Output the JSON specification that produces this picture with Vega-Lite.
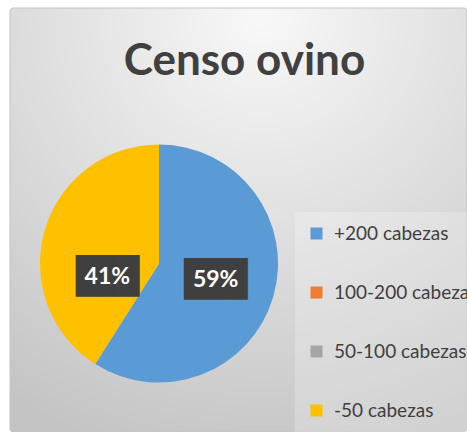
{
  "$schema": "https://vega.github.io/schema/vega-lite/v6.json",
  "width": 457,
  "height": 424,
  "autosize": {"type": "none"},
  "padding": {"left": 10, "top": 8, "right": 0, "bottom": 0},
  "background": "white",
  "title": {
    "text": "Censo ovino",
    "font": "Lato",
    "fontSize": 44,
    "fontWeight": "bold",
    "color": "#404040",
    "anchor": "middle",
    "frame": "group",
    "offset": 0,
    "dx": 6,
    "dy": 76
  },
  "config": {"view": {"stroke": null}},
  "data": {
    "values": [
      {"Categoria": "+200 cabezas", "valor": 59, "etiqueta": "59%"},
      {"Categoria": "100-200 cabezas", "valor": 0, "etiqueta": ""},
      {"Categoria": "50-100 cabezas", "valor": 0, "etiqueta": ""},
      {"Categoria": "-50 cabezas", "valor": 41, "etiqueta": "41%"}
    ]
  },
  "layer": [
    {
      "data": {"values": [{}]},
      "mark": {
        "type": "rect",
        "fill": {
          "gradient": "radial",
          "x1": 0.55, "y1": 0.05, "r1": 0,
          "x2": 0.55, "y2": 0.05, "r2": 1.0,
          "stops": [
            {"offset": 0, "color": "#f8f8f8"},
            {"offset": 1, "color": "#c4c4c4"}
          ]
        },
        "stroke": "#c4c4c4",
        "strokeWidth": 1,
        "cornerRadius": 3
      },
      "encoding": {}
    },
    {
      "mark": {"type": "arc", "outerRadius": 119, "xOffset": -79.5, "yOffset": 43.5},
      "encoding": {
        "theta": {"field": "valor", "type": "quantitative", "stack": true},
        "order": {"field": "Categoria", "type": "nominal", "sort": "ascending"},
        "color": {
          "field": "Categoria",
          "type": "nominal",
          "sort": ["+200 cabezas", "100-200 cabezas", "50-100 cabezas", "-50 cabezas"],
          "scale": {
            "domain": ["+200 cabezas", "100-200 cabezas", "50-100 cabezas", "-50 cabezas"],
            "range": ["#5B9BD5", "#ED7D31", "#A5A5A5", "#FFC000"]
          },
          "legend": {
            "orient": "none",
            "legendX": 285,
            "legendY": 204,
            "title": null,
            "symbolType": "square",
            "symbolSize": 144,
            "symbolStrokeWidth": 0,
            "labelFont": "Lato",
            "labelFontSize": 19,
            "labelColor": "#404040",
            "labelOffset": 8,
            "rowPadding": 39,
            "padding": 12,
            "fillColor": "rgba(255,255,255,0.22)",
            "labelLimit": 300
          }
        }
      }
    },
    {
      "transform": [{"filter": "datum.valor > 0"}],
      "mark": {
        "type": "text",
        "radius": 59,
        "xOffset": -79.5,
        "yOffset": 43.5,
        "font": "DejaVu Sans Mono",
        "fontSize": 35,
        "color": "#3f3f3f",
        "align": "center",
        "baseline": "middle",
        "dx": {"expr": "datum.Categoria === '-50 cabezas' ? 5 : 0"},
        "dy": {"expr": "datum.Categoria === '-50 cabezas' ? 30 : 0"}
      },
      "encoding": {
        "theta": {"field": "valor", "type": "quantitative", "stack": true},
        "order": {"field": "Categoria", "type": "nominal", "sort": "ascending"},
        "text": {"value": "███"}
      }
    },
    {
      "transform": [{"filter": "datum.valor > 0"}],
      "mark": {
        "type": "text",
        "radius": 59,
        "xOffset": -79.5,
        "yOffset": 43.5,
        "font": "Lato",
        "fontSize": 23,
        "fontWeight": "bold",
        "color": "white",
        "align": "center",
        "baseline": "middle",
        "dx": {"expr": "datum.Categoria === '-50 cabezas' ? 5 : 0"},
        "dy": {"expr": "datum.Categoria === '-50 cabezas' ? 30 : 0"}
      },
      "encoding": {
        "theta": {"field": "valor", "type": "quantitative", "stack": true},
        "order": {"field": "Categoria", "type": "nominal", "sort": "ascending"},
        "text": {"field": "etiqueta", "type": "nominal"}
      }
    }
  ]
}
